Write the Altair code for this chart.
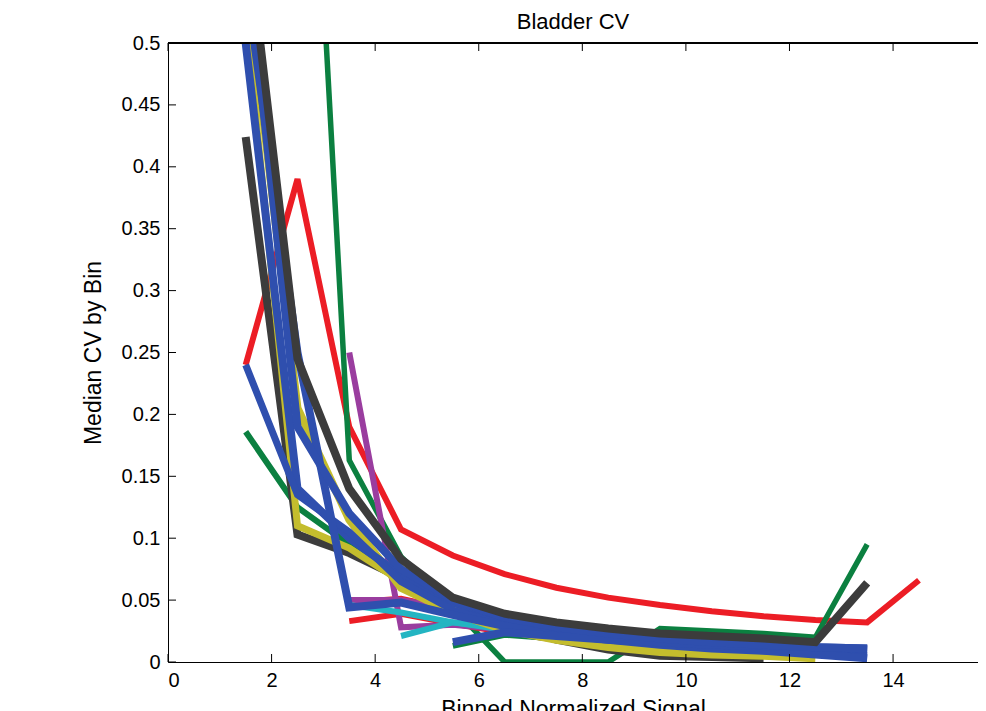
import altair as alt
import pandas as pd

N = None
bins = [1.5, 2.5, 3.5, 4.5, 5.5, 6.5, 7.5, 8.5, 9.5, 10.5, 11.5, 12.5, 13.5, 14.5]

red_a = [0.240, 0.390, 0.190, 0.107, 0.086, 0.071, 0.060, 0.052, 0.046, 0.041, 0.037, 0.034, 0.032, 0.066]
red_b = [N, N, 0.033, 0.039, 0.031, 0.024, 0.018, 0.014, 0.011, 0.009, 0.008, 0.007, N, N]
red_c = [N, N, 0.048, 0.051, 0.042, 0.032, 0.025, 0.019, 0.015, 0.013, 0.011, 0.010, N, N]
green_a = [N, 0.920, 0.163, 0.085, 0.044, 0.000, 0.000, 0.000, 0.027, 0.025, 0.023, 0.020, 0.095, N]
green_b = [0.186, 0.125, 0.095, 0.072, 0.050, 0.036, 0.027, 0.021, 0.017, 0.014, 0.012, 0.010, N, N]
green_c = [N, N, N, N, 0.013, 0.022, 0.019, 0.016, 0.013, 0.011, 0.009, 0.008, N, N]
magenta_a = [N, N, 0.250, 0.028, 0.030, 0.026, 0.021, 0.017, 0.014, 0.012, 0.010, 0.009, N, N]
magenta_b = [N, N, 0.050, 0.050, 0.043, 0.033, 0.026, 0.020, 0.016, 0.013, 0.011, 0.010, N, N]
cyan_a = [N, N, N, 0.021, 0.032, 0.027, 0.022, 0.018, 0.015, 0.012, 0.010, 0.009, N, N]
cyan_b = [N, N, 0.046, 0.040, 0.032, 0.026, 0.021, 0.017, 0.014, 0.012, 0.010, 0.009, N, N]
yellow_a = [0.560, 0.205, 0.115, 0.060, 0.040, 0.026, 0.018, 0.012, 0.008, 0.006, 0.005, 0.003, N, N]
yellow_b = [0.520, 0.110, 0.092, 0.065, 0.045, 0.030, 0.022, 0.016, 0.012, 0.010, 0.008, 0.007, N, N]
gray_b = [0.424, 0.103, 0.088, 0.068, 0.045, 0.030, 0.018, 0.010, 0.005, 0.004, 0.003, N, N, N]
blue_a = [0.500, 0.140, 0.100, 0.070, 0.048, 0.034, 0.027, 0.022, 0.018, 0.015, 0.013, 0.011, 0.010, N]
blue_b = [0.240, 0.135, 0.105, 0.065, 0.042, 0.030, 0.024, 0.019, 0.015, 0.012, 0.009, 0.007, 0.005, N]
blue_c = [0.550, 0.250, 0.044, 0.048, 0.038, 0.029, 0.023, 0.018, 0.014, 0.011, 0.009, 0.006, 0.003, N]
blue_d = [N, N, N, N, 0.016, 0.024, 0.021, 0.018, 0.016, 0.014, 0.013, 0.012, 0.011, N]
blue_e = [0.580, 0.190, 0.120, 0.075, 0.050, 0.036, 0.028, 0.023, 0.019, 0.016, 0.014, 0.012, 0.011, N]
gray_a = [0.600, 0.245, 0.140, 0.083, 0.052, 0.039, 0.032, 0.027, 0.023, 0.021, 0.019, 0.016, 0.064, N]

x_ticks = [0, 2, 4, 6, 8, 10, 12, 14]
y_ticks = [0, 0.05, 0.1, 0.15, 0.2, 0.25, 0.3, 0.35, 0.4, 0.45, 0.5]

RED, GREEN, GRAY, BLUE = "#ec1d25", "#0b8040", "#3c3c3c", "#2f4fae"
YELLOW, MAGENTA, CYAN = "#c4bd2d", "#9a3d9f", "#23b5c2"

# draw order: first drawn is at the bottom
series = [
    ("red_a", red_a, RED, 6),
    ("green_a", green_a, GREEN, 5.5),
    ("red_b", red_b, RED, 6),
    ("red_c", red_c, RED, 6),
    ("green_b", green_b, GREEN, 6),
    ("green_c", green_c, GREEN, 6),
    ("magenta_a", magenta_a, MAGENTA, 6),
    ("magenta_b", magenta_b, MAGENTA, 6),
    ("cyan_a", cyan_a, CYAN, 6),
    ("cyan_b", cyan_b, CYAN, 6),
    ("gray_b", gray_b, GRAY, 8),
    ("yellow_b", yellow_b, YELLOW, 7),
    ("yellow_a", yellow_a, YELLOW, 8),
    ("blue_a", blue_a, BLUE, 8),
    ("blue_b", blue_b, BLUE, 7),
    ("blue_c", blue_c, BLUE, 8),
    ("blue_d", blue_d, BLUE, 8),
    ("blue_e", blue_e, BLUE, 8),
    ("gray_a", gray_a, GRAY, 8),
]

rows = []
for name, vals, _, _ in series:
    for xv, yv in zip(bins, vals):
        if yv is not None:
            rows.append({"series": name, "x": xv, "y": yv})
df = pd.DataFrame(rows)

W, H = 810, 619
FONT = "Liberation Sans"
xscale = alt.Scale(domain=[0, 15.64], nice=False, zero=False)
yscale = alt.Scale(domain=[0, 0.5], nice=False)

x_enc = alt.X("x:Q", scale=xscale,
              axis=alt.Axis(values=x_ticks, title="Binned Normalized Signal", tickSize=0,
                            labelPadding=8, grid=False, domainColor="black",
                            labelFontSize=20, titleFontSize=23, titleFontWeight="normal",
                            labelColor="black", titleColor="black", titlePadding=8,
                            labelFont=FONT, titleFont=FONT))
y_enc = alt.Y("y:Q", scale=yscale,
              axis=alt.Axis(values=y_ticks, format="~g", title="Median CV by Bin", tickSize=0,
                            labelPadding=8, grid=False, domainColor="black",
                            labelFontSize=20, titleFontSize=23, titleFontWeight="normal",
                            labelColor="black", titleColor="black", titlePadding=16,
                            labelFont=FONT, titleFont=FONT))

layers = []
for i, (name, vals, col, sw) in enumerate(series):
    enc = dict(x=x_enc, y=y_enc) if i == 0 else dict(x=alt.X("x:Q", scale=xscale), y=alt.Y("y:Q", scale=yscale))
    layers.append(
        alt.Chart(df).transform_filter(alt.datum.series == name)
        .mark_line(color=col, strokeWidth=sw, clip=True, strokeJoin="miter", strokeCap="butt")
        .encode(**enc)
    )

xt = pd.DataFrame({"t": x_ticks})
yt = pd.DataFrame({"t": y_ticks})
tick_len = 8
bottom_ticks = alt.Chart(xt).mark_rule(color="black", strokeWidth=1).encode(
    x=alt.X("t:Q", scale=xscale), y=alt.value(H), y2=alt.value(H - tick_len))
top_ticks = alt.Chart(xt).mark_rule(color="black", strokeWidth=1).encode(
    x=alt.X("t:Q", scale=xscale), y=alt.value(0), y2=alt.value(tick_len))
left_ticks = alt.Chart(yt).mark_rule(color="black", strokeWidth=1).encode(
    y=alt.Y("t:Q", scale=yscale), x=alt.value(0), x2=alt.value(tick_len))
top_line = alt.Chart(xt).mark_rule(color="black", strokeWidth=1).encode(
    x=alt.value(0), x2=alt.value(W), y=alt.value(0))

chart = alt.layer(*layers, bottom_ticks, top_ticks, left_ticks, top_line).properties(
    width=W, height=H,
    title=alt.TitleParams("Bladder CV", fontSize=22, fontWeight="normal", font=FONT,
                          color="black", anchor="middle", offset=-1),
    autosize=alt.AutoSizeParams(type="none"),
    padding={"left": 160, "top": 35, "right": 0, "bottom": 49},
).configure_view(stroke=None).configure(background="white")

chart.save("out.html", embed_options={"renderer": "svg", "actions": False})
